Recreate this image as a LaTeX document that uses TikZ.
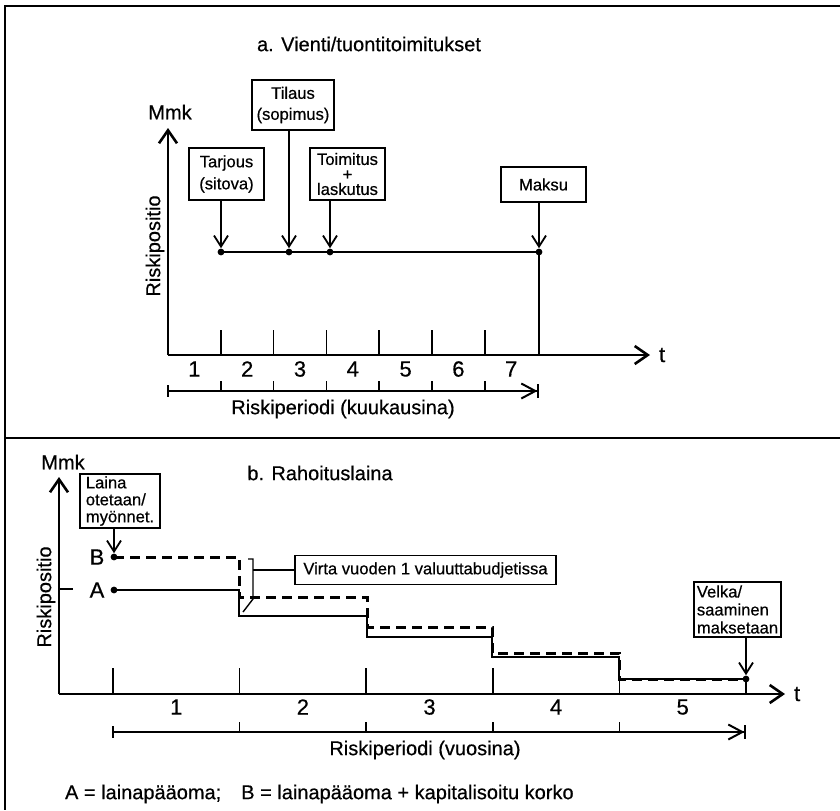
\documentclass[tikz,border=0pt]{standalone}
\usepackage{fontspec}
\setmainfont{Liberation Sans}[FakeBold=0.5]
\usetikzlibrary{positioning,arrows.meta}
\tikzset{
    frameline/.style={line width=0.8pt},
    axis/.style={line width=1pt, -{Straight Barb[length=6.5pt,width=9pt,line width=1.3pt]}},
    tickline/.style={line width=0.8pt},
    notebox/.style={
        draw, line width=0.8pt, inner sep=1pt,
        font=\fontsize{8.3}{9.5}\selectfont, align=center
    },
    pointer/.style={line width=0.7pt, -{Straight Barb[length=5.5pt,width=7pt,line width=0.9pt]}},
    periodline/.style={line width=0.8pt, -{Straight Barb[length=7pt,width=7.5pt,line width=1pt]Bar[width=7pt]}},
    posdot/.style={circle, fill, inner sep=0pt, minimum size=3.4pt},
    riskline/.style={line width=1.1pt},
    capline/.style={line width=1.5pt, dash pattern=on 5pt off 3pt},
    lbl/.style={font=\fontsize{10}{12}\selectfont},
    numlbl/.style={font=\fontsize{11}{12}\selectfont},
}

\begin{document}
\begin{tikzpicture}[x=0.5pt, y=-0.5pt]
    \useasboundingbox (0,0) rectangle (840,810);
    \draw[frameline] (840,6) -- (5,6) -- (5,810);
    \draw[frameline] (5,438) -- (840,438);

    \node[lbl] (titlea) at (369,44) {a. Vienti/tuontitoimitukset};
    \coordinate (oa) at (168,355);
    \coordinate (ya) at (168,128);
    \coordinate (xa) at (650,355);
    \draw[axis] (oa) -- (ya);
    \draw[axis] (oa) -- (xa);
    \node[lbl] (mmka) at (170,112) {Mmk};
    \node[lbl, rotate=90] (riska) at (155,246) {Riskipositio};
    \node[numlbl, right=1pt of xa] (ta) {t};
    \foreach \i in {1,...,6}
        \draw[tickline] ({168+52.8*\i},355) -- ++(0,-25);
    \foreach \i in {1,...,7}
        \node[numlbl] (na\i) at ({168+52.8*\i-26.4},369) {\i};

    \coordinate (pa0) at (168,391);
    \coordinate (pa1) at (539,391);
    \draw[periodline] (pa0) -- (pa1);
    \draw[tickline] (168,385) -- (168,397);
    \foreach \i in {1,...,6}
        \draw[tickline] ({168+52.8*\i},391) -- ++(0,-10);
    \node[lbl] (perioda) at (343,409) {Riskiperiodi (kuukausina)};

    \node[posdot] (d1) at (221,252) {};
    \node[posdot] (d2) at (289,252) {};
    \node[posdot] (d3) at (330,252) {};
    \node[posdot] (d4) at (539,252) {};
    \draw[riskline] (d1.center) -- (d4.center);
    \draw[line width=1.3pt] (d4.center) -- (d4 |- oa);

    \node[notebox, minimum width=37.5pt, minimum height=26pt, font=\fontsize{8.3}{11}\selectfont] (tarjous) at (226.5,174) {Tarjous\\(sitova)};
    \node[notebox, minimum width=41pt, minimum height=25pt, font=\fontsize{8.3}{10.5}\selectfont] (tilaus) at (293,105) {Tilaus\\(sopimus)};
    \node[notebox, minimum width=37.5pt, minimum height=26pt, font=\fontsize{8.3}{7.5}\selectfont] (toimitus) at (347.5,174) {Toimitus\\+\\laskutus};
    \node[notebox, minimum width=42.5pt, minimum height=17.5pt] (maksu) at (543.5,184.5) {Maksu};
    \draw[pointer] (tarjous.south -| d1) -- (d1);
    \draw[pointer] (tilaus.south -| d2) -- (d2);
    \draw[pointer] (toimitus.south -| d3) -- (d3);
    \draw[pointer] (maksu.south -| d4) -- (d4);

    \node[lbl] (titleb) at (320,473) {b. Rahoituslaina};
    \coordinate (ob) at (59,694);
    \coordinate (yb) at (59,477);
    \coordinate (xb) at (785,694);
    \draw[axis] (ob) -- (yb);
    \draw[axis] (ob) -- (xb);
    \draw[tickline] (59,589) -- (73,589);
    \node[lbl] (mmkb) at (63,462) {Mmk};
    \node[lbl, rotate=90] (riskb) at (46,597) {Riskipositio};
    \node[numlbl, right=1pt of xb] (tb) {t};
    \foreach \i in {0,...,4}
        \draw[tickline] ({113+126.6*\i},694) -- ++(0,-26);
    \foreach \i in {1,...,5}
        \node[numlbl] (nb\i) at ({113+126.6*\i-63.3},707) {\i};

    \coordinate (pb0) at (113,732);
    \coordinate (pb1) at (746,732);
    \draw[periodline] (pb0) -- (pb1);
    \draw[tickline] (113,726) -- (113,738);
    \foreach \i in {1,...,4}
        \draw[tickline] ({113+126.6*\i},732) -- ++(0,-10);
    \node[lbl] (periodb) at (425,750) {Riskiperiodi (vuosina)};

    \node[numlbl] (labb) at (97,557) {B};
    \node[numlbl] (laba) at (97,590) {A};
    \node[posdot] (db) at (114,557) {};
    \node[posdot] (da) at (114,590) {};
    \node[posdot] (de) at (746,679) {};
    \draw[riskline] (da.center) -- (239,590) -- (239,616) -- (367,616) -- (367,637)
        -- (492,637) -- (492,657) -- (619,657) -- (619,679) -- (de.center);
    \draw[capline] (db.center) -- (239,557) -- (239,597) -- (367,597) -- (367,627)
        -- (492,627) -- (492,653) -- (619,653) -- (619,679) -- (de.center);
    \draw[line width=1.3pt] (de.center) -- (de |- ob);

    \node[notebox, align=left, minimum width=40pt, minimum height=27pt, font=\fontsize{8.3}{8.5}\selectfont] (laina) at (120,501) {Laina\\otetaan/\\myönnet.};
    \node[notebox, minimum width=130.5pt, minimum height=14.5pt] (virta) at (425.5,570) {Virta vuoden 1 valuuttabudjetissa};
    \node[notebox, align=left, minimum width=43.5pt, minimum height=27.5pt, font=\fontsize{8.3}{9}\selectfont] (velka) at (737.5,609.5) {Velka/\\saaminen\\maksetaan};
    \draw[pointer] (laina.south -| db) -- (db);
    \draw[pointer] (velka.south -| de) -- (de);

    \coordinate (brk) at (253,570);
    \draw[line width=0.7pt] (248,559) -- (253,559) -- (253,599) -- (243,612);
    \draw[line width=0.7pt] (brk) -- (virta.west);

    \node[lbl, anchor=west] (note) at (58,794) {A = lainapääoma;\quad B = lainapääoma + kapitalisoitu korko};
\end{tikzpicture}
\end{document}
